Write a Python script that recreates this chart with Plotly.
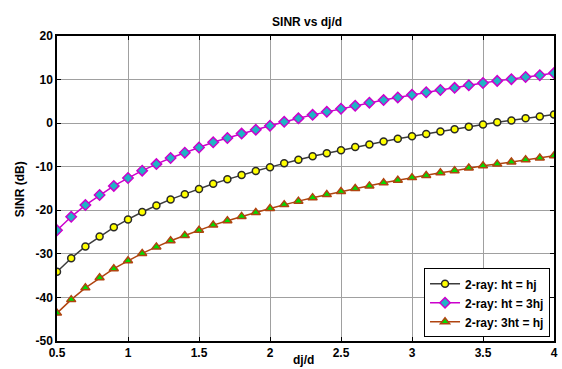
import plotly.graph_objects as go

x_ratio = [0.5, 0.6, 0.7, 0.8, 0.9, 1.0, 1.1, 1.2, 1.3, 1.4, 1.5, 1.6, 1.7, 1.8,
           1.9, 2.0, 2.1, 2.2, 2.3, 2.4, 2.5, 2.6, 2.7, 2.8, 2.9, 3.0, 3.1, 3.2,
           3.3, 3.4, 3.5, 3.6, 3.7, 3.8, 3.9, 4.0]

sinr_ht_eq_hj = [-34.1, -31.0, -28.3, -26.0, -23.9, -22.1, -20.4, -18.9, -17.5,
                 -16.3, -15.1, -13.9, -12.9, -11.9, -11.0, -10.1, -9.2, -8.4,
                 -7.6, -6.9, -6.2, -5.5, -4.9, -4.2, -3.6, -3.0, -2.5, -1.9,
                 -1.4, -0.8, -0.3, 0.2, 0.6, 1.1, 1.5, 2.0]

sinr_ht_eq_3hj = [-24.6, -21.5, -18.8, -16.5, -14.4, -12.6, -10.9, -9.4, -8.0,
                  -6.8, -5.6, -4.4, -3.4, -2.4, -1.5, -0.6, 0.3, 1.1, 1.9, 2.6,
                  3.3, 4.0, 4.7, 5.3, 5.9, 6.5, 7.1, 7.6, 8.1, 8.7, 9.2, 9.7,
                  10.1, 10.6, 11.0, 11.5]

sinr_3ht_eq_hj = [-43.6, -40.5, -37.8, -35.5, -33.4, -31.6, -29.9, -28.4, -27.0,
                  -25.8, -24.6, -23.4, -22.4, -21.4, -20.5, -19.6, -18.7, -17.9,
                  -17.1, -16.4, -15.7, -15.0, -14.4, -13.7, -13.1, -12.5, -12.0,
                  -11.4, -10.9, -10.3, -9.8, -9.4, -8.9, -8.4, -8.0, -7.5]

series_names = ["2-ray: ht = hj", "2-ray: ht = 3hj", "2-ray: 3ht = hj"]
x_ticks = [0.5, 1, 1.5, 2, 2.5, 3, 3.5, 4]
x_tick_labels = ["0.5", "1", "1.5", "2", "2.5", "3", "3.5", "4"]
y_ticks = [-50, -40, -30, -20, -10, 0, 10, 20]
y_tick_labels = ["-50", "-40", "-30", "-20", "-10", "0", "10", "20"]

FONT = "Liberation Sans, Arial, sans-serif"

fig = go.Figure()
fig.add_trace(go.Scatter(
    x=x_ratio, y=sinr_ht_eq_hj, name=series_names[0], mode="lines+markers",
    line=dict(color="#3c3c3c", width=1.5),
    marker=dict(symbol="circle", size=7, color="#ffff00",
                line=dict(color="#2a2a2a", width=1.5))))
fig.add_trace(go.Scatter(
    x=x_ratio, y=sinr_ht_eq_3hj, name=series_names[1], mode="lines+markers",
    line=dict(color="#cc00cc", width=1.5),
    marker=dict(symbol="diamond", size=8, color="#1fb4c4",
                line=dict(color="#cc00cc", width=1.5))))
fig.add_trace(go.Scatter(
    x=x_ratio, y=sinr_3ht_eq_hj, name=series_names[2], mode="lines+markers",
    line=dict(color="#b04410", width=1.5),
    marker=dict(symbol="triangle-up", size=8, color="#00dd00",
                line=dict(color="#b04410", width=1.5))))

axis_common = dict(
    showgrid=True, gridcolor="#a0a0a0", gridwidth=1,
    showline=True, linecolor="black", linewidth=1.5, mirror="ticks",
    ticks="inside", ticklen=4, tickcolor="black", zeroline=False,
    tickfont=dict(family=FONT, size=12, color="black", weight="bold"),
)

fig.update_xaxes(range=[0.5, 4], tickvals=x_ticks, ticktext=x_tick_labels,
                 **axis_common)
fig.update_yaxes(range=[-50, 20], tickvals=y_ticks, ticktext=y_tick_labels,
                 **axis_common)

fig.update_layout(
    width=562, height=369,
    margin=dict(l=57, r=4, t=36, b=28),
    paper_bgcolor="white", plot_bgcolor="white",
    showlegend=True,
    legend=dict(x=0.992, y=0.012, xanchor="right", yanchor="bottom",
                bgcolor="white", bordercolor="black", borderwidth=1,
                font=dict(family=FONT, size=12, color="black", weight="bold"),
                tracegroupgap=0, itemwidth=30),
    title=dict(text="<b>SINR vs dj/d</b>", x=0.5464, xanchor="center",
               y=1 - 22 / 369, yanchor="middle",
               font=dict(family=FONT, size=12, color="black")),
    annotations=[
        dict(text="<b>dj/d</b>", xref="paper", yref="paper",
             x=0.496, y=-(360 - 341) / 305, xanchor="center", yanchor="middle",
             showarrow=False, font=dict(family=FONT, size=12, color="black")),
        dict(text="<b>SINR (dB)</b>", xref="paper", yref="paper",
             x=(20 - 57) / 501, y=(341 - 189) / 305, xanchor="center",
             yanchor="middle", textangle=-90, showarrow=False,
             font=dict(family=FONT, size=12, color="black")),
    ],
)

fig.write_html("out.html")
